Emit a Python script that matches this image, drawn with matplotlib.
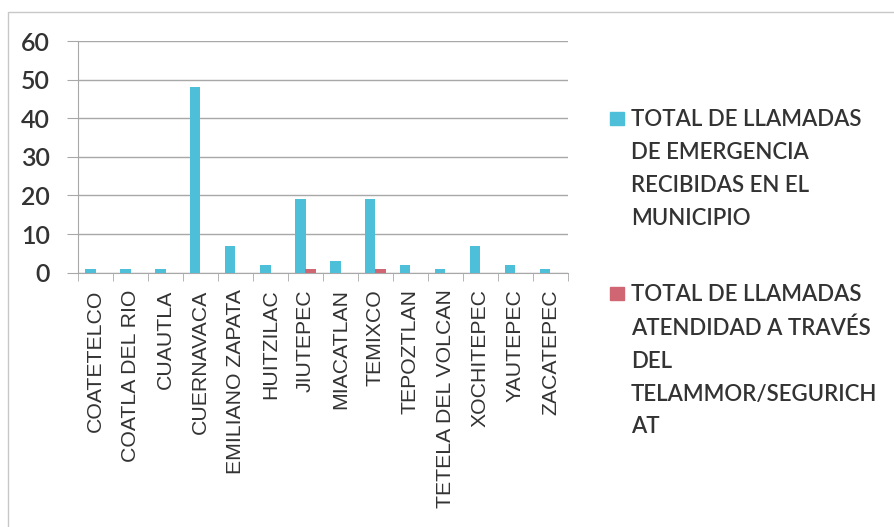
import numpy as np
import matplotlib
matplotlib.use('Agg')
import matplotlib.pyplot as plt
from matplotlib.patches import Rectangle

municipios = ['COATETELCO', 'COATLA DEL RIO', 'CUAUTLA', 'CUERNAVACA',
              'EMILIANO ZAPATA', 'HUITZILAC', 'JIUTEPEC', 'MIACATLAN',
              'TEMIXCO', 'TEPOZTLAN', 'TETELA DEL VOLCAN', 'XOCHITEPEC',
              'YAUTEPEC', 'ZACATEPEC']
recibidas = [1, 1, 1, 48, 7, 2, 19, 3, 19, 2, 1, 7, 2, 1]
atendidas = [0, 0, 0, 0, 0, 0, 1, 0, 1, 0, 0, 0, 0, 0]
serie1 = 'TOTAL DE LLAMADAS\nDE EMERGENCIA\nRECIBIDAS EN EL\nMUNICIPIO'
serie2 = 'TOTAL DE LLAMADAS\nATENDIDAD A TRAVÉS\nDEL\nTELAMMOR/SEGURICH\nAT'

azul = '#4dbfd9'
rojo = '#d06672'
gris = '#a8a8a8'
texto = '#333333'

fig = plt.figure(figsize=(8.95, 5.27), dpi=100)
fig.patches.append(Rectangle((8 / 895, -0.1), 1.2, 1 - 12 / 527 + 0.1,
                             transform=fig.transFigure, fill=False,
                             edgecolor='#c8c8c8', linewidth=1))
ax = fig.add_axes([78 / 895, 1 - 272.7 / 527, (568 - 78) / 895, (272.7 - 41) / 527])

x = np.arange(len(municipios))
w = 0.29
ax.bar(x - w / 2, recibidas, w, color=azul, zorder=3)
ax.bar(x + w / 2, atendidas, w, color=rojo, zorder=3)

ax.set_ylim(0, 60)
ax.set_xlim(-0.5, len(municipios) - 0.5)
ax.set_yticks(range(0, 61, 10))
ax.yaxis.grid(True, color=gris, linewidth=1)
ax.set_axisbelow(True)
for s in ['top', 'right']:
    ax.spines[s].set_visible(False)
for s in ['left', 'bottom']:
    ax.spines[s].set_color(gris)
ax.tick_params(axis='y', length=8, color=gris, pad=12, labelsize=18,
               labelcolor=texto)
for lab in ax.get_yticklabels():
    lab.set_fontfamily('Lato')
    lab.set_fontweight('semibold')

ax.set_xticks(x)
ax.set_xticklabels(municipios, rotation=90, fontsize=15.3, color=texto,
                   fontfamily='Liberation Sans')
ax.set_xticks(np.arange(-0.5, len(municipios), 1), minor=True)
ax.tick_params(axis='x', which='major', length=0, pad=12)
ax.tick_params(axis='x', which='minor', length=6, color=gris)

# leyenda
fig.patches.append(Rectangle((610 / 895, 1 - 125 / 527), 14 / 895, 13 / 527,
                             transform=fig.transFigure, color=azul))
fig.patches.append(Rectangle((610 / 895, 1 - 300 / 527), 14 / 895, 13 / 527,
                             transform=fig.transFigure, color=rojo))
fig.text(631 / 895, 1 - 109 / 527, serie1, fontsize=16, fontfamily='Lato',
         fontweight='semibold', color=texto, va='top', ha='left', linespacing=1.7)
fig.text(631 / 895, 1 - 284 / 527, serie2, fontsize=16, fontfamily='Lato',
         fontweight='semibold', color=texto, va='top', ha='left', linespacing=1.7)

fig.savefig('out.png', dpi=100)
